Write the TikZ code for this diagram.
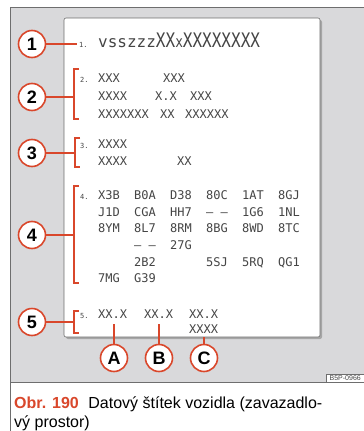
\documentclass[tikz,border=0pt]{standalone}
\usepackage{fontspec}
\setmainfont{Liberation Sans}
\newfontfamily\monof{DejaVu Sans Mono}
\usepackage{graphicx}
\definecolor{redl}{HTML}{D9472B}
\definecolor{bggray}{HTML}{D9D9DB}
\definecolor{txtgray}{HTML}{454545}
\definecolor{framegray}{HTML}{6E6E6E}
\tikzset{
  circ/.style={circle, draw=redl, line width=1.6pt, fill=white, minimum size=27pt, inner sep=0pt, font=\bfseries\fontsize{18}{18}\selectfont},
  brk/.style={draw=redl, line width=1.3pt},
  tx/.style={anchor=base west, inner sep=0pt, text=txtgray, font=\monof\fontsize{12}{12}\selectfont},
  num/.style={anchor=base west, inner sep=0pt, text=txtgray, font=\monof\fontsize{7}{7}\selectfont},
}
\begin{document}
\begin{tikzpicture}[x=1pt,y=-1pt]
\useasboundingbox (0,0) rectangle (364,431);
\fill[white] (0,0) rectangle (364,431);
% background panel
\fill[bggray] (10,7) rectangle (364,382);
\draw[framegray, line width=0.8pt] (364,7) -- (10,7) -- (10,431);
\draw[framegray, line width=0.8pt] (10,382) -- (364,382);
% label
\fill[gray!70, rounded corners=2pt] (66,20) rectangle (322,339);
\draw[fill=white, draw=framegray, line width=0.6pt, rounded corners=2pt] (64,18) rectangle (320,337);
% code box
\node[draw=framegray, fill=white, line width=0.4pt, inner xsep=3pt, inner ysep=1.5pt, anchor=south east, text=txtgray, font=\fontsize{7}{7}\selectfont] (code) at (364,382) {B5P-0966};

% section 1
\node[num] (n1) at (79,47) {1.};
\node[anchor=base west, inner sep=0pt, text=txtgray] (t1) at (98,47) {\monof\fontsize{16}{16}\selectfont vsszzz\scalebox{0.8}[1]{\fontsize{20}{20}\selectfont XX}\scalebox{0.8}[1]{x}\scalebox{0.8}[1]{\fontsize{20}{20}\selectfont XXXXXXXX}};
\node[circ] (c1) at (32,44) {1};
\coordinate (b1) at (77,44);
\draw[brk] (c1) -- (b1);

% section 2
\node[num] (n2) at (80,82) {2.};
\node[tx] (t21) at (98,82) {XXX};
\node[tx] (t22) at (163,82) {XXX};
\node[tx] (t23) at (98,100) {XXXX};
\node[tx] (t24) at (155,100) {X.X};
\node[tx] (t25) at (190,100) {XXX};
\node[tx] (t26) at (98,118) {XXXXXXX};
\node[tx] (t27) at (160,118) {XX};
\node[tx] (t28) at (185,118) {XXXXXX};
\node[circ] (c2) at (32,97) {2};
\coordinate (b2) at (74,97);
\draw[brk] (79,69) -- (74,69) -- (74,119) -- (79,119);
\draw[brk] (c2) -- (b2);

% section 3
\node[num] (n3) at (80,148) {3.};
\node[tx] (t31) at (98,148) {XXXX};
\node[tx] (t32) at (98,165) {XXXX};
\node[tx] (t33) at (177,165) {XX};
\node[circ] (c3) at (32,153) {3};
\coordinate (b3) at (75,153);
\draw[brk] (80,138) -- (75,138) -- (75,167) -- (80,167);
\draw[brk] (c3) -- (b3);

% section 4
\node[num] (n4) at (80,199) {4.};
\node[tx] at (98,199) {X3B}; \node[tx] at (134,199) {B0A}; \node[tx] at (170,199) {D38};
\node[tx] at (206,199) {80C}; \node[tx] at (242,199) {1AT}; \node[tx] at (278,199) {8GJ};
\node[tx] at (98,216) {J1D}; \node[tx] at (134,216) {CGA}; \node[tx] at (170,216) {HH7};
\node[tx] at (206,216) {– –}; \node[tx] at (242,216) {1G6}; \node[tx] at (278,216) {1NL};
\node[tx] at (98,232) {8YM}; \node[tx] at (134,232) {8L7}; \node[tx] at (170,232) {8RM};
\node[tx] at (206,232) {8BG}; \node[tx] at (242,232) {8WD}; \node[tx] at (278,232) {8TC};
\node[tx] at (134,249) {– –}; \node[tx] at (170,249) {27G};
\node[tx] at (134,266) {2B2}; \node[tx] at (206,266) {5SJ}; \node[tx] at (242,266) {5RQ}; \node[tx] at (278,266) {QG1};
\node[tx] at (98,282) {7MG}; \node[tx] at (134,282) {G39};
\node[circ] (c4) at (32,235) {4};
\coordinate (b4) at (74,235);
\draw[brk] (79,186) -- (74,186) -- (74,283) -- (79,283);
\draw[brk] (c4) -- (b4);

% section 5
\node[num] (n5) at (80,318) {5.};
\node[tx] (t51) at (98,318) {XX.X};
\node[tx] (t52) at (144,318) {XX.X};
\node[tx] (t53) at (189,318) {XX.X};
\node[tx] (t54) at (189,333) {XXXX};
\node[circ] (c5) at (32,322) {5};
\coordinate (b5) at (74,322);
\draw[brk] (79,311) -- (74,311) -- (74,333) -- (79,333);
\draw[brk] (c5) -- (b5);

% A B C
\node[circ] (cA) at (114,358) {A};
\node[circ] (cB) at (159,358) {B};
\node[circ] (cC) at (204,358) {C};
\coordinate (pA) at (114,324);
\coordinate (pB) at (159,324);
\coordinate (pC) at (204,337);
\draw[brk] (cA) -- (pA);
\draw[brk] (cB) -- (pB);
\draw[brk] (cC) -- (pC);

% caption
\node[anchor=base west, inner sep=0pt, font=\fontsize{16}{16}\selectfont] (cap1) at (14,408) {\textcolor{redl}{\bfseries Obr. 190}\hspace{0.6em}Datový štítek vozidla (zavazadlo-};
\node[anchor=base west, inner sep=0pt, font=\fontsize{16}{16}\selectfont] (cap2) at (14,427) {vý prostor)};
\end{tikzpicture}
\end{document}
